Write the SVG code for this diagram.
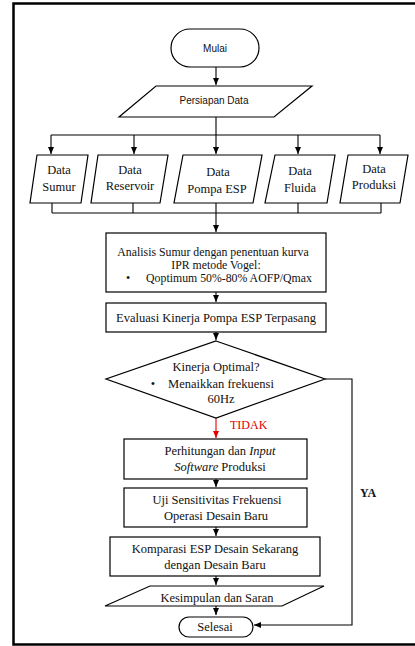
<svg xmlns="http://www.w3.org/2000/svg" width="415" height="646" viewBox="0 0 415 646">
<defs>
<marker id="ah" markerWidth="8" markerHeight="8" refX="7" refY="4" orient="auto" markerUnits="userSpaceOnUse">
<path d="M0,1 L7,4 L0,7 Z" fill="#000"/>
</marker>
<marker id="ahr" markerWidth="8" markerHeight="8" refX="7" refY="4" orient="auto" markerUnits="userSpaceOnUse">
<path d="M0,1 L7,4 L0,7 Z" fill="#e00000"/>
</marker>
</defs>
<style>
.s{fill:#fff;stroke:#000;stroke-width:1.2}
.t{font-family:"Liberation Serif","Times New Roman",serif;font-size:12.5px;fill:#111;text-anchor:middle}
.a{font-size:11.8px}
.c{font-family:"Liberation Sans",Arial,sans-serif;font-size:10px;fill:#111;text-anchor:middle}
.l{fill:none;stroke:#000;stroke-width:1.1}
</style>
<rect x="0" y="0" width="415" height="646" fill="#fff"/>
<rect x="13.5" y="3.5" width="420" height="641" fill="none" stroke="#000" stroke-width="2.5"/>

<g id="connectors">
<path class="l" d="M216,67 V85" marker-end="url(#ah)"/>
<path class="l" d="M216,117 V135 M51,135 H380"/>
<path class="l" d="M51,135 V154" marker-end="url(#ah)"/>
<path class="l" d="M134,135 V154" marker-end="url(#ah)"/>
<path class="l" d="M216,135 V154" marker-end="url(#ah)"/>
<path class="l" d="M298,135 V154" marker-end="url(#ah)"/>
<path class="l" d="M380,135 V154" marker-end="url(#ah)"/>
<path class="l" d="M52,203 V213 M133,203 V213 M298,203 V213 M381,203 V213 M52,213 H381 M216,203 V213"/>
<path class="l" d="M216,213 V232" marker-end="url(#ah)"/>
<path class="l" d="M216,292 V302" marker-end="url(#ah)"/>
<path class="l" d="M216,332 V340" marker-end="url(#ah)"/>
<path fill="none" stroke="#e00000" stroke-width="1.1" d="M216,418 V438" marker-end="url(#ahr)"/>
<path class="l" d="M216,479 V487" marker-end="url(#ah)"/>
<path class="l" d="M216,527 V536" marker-end="url(#ah)"/>
<path class="l" d="M216,576 V585" marker-end="url(#ah)"/>
<path class="l" d="M216,606 V615" marker-end="url(#ah)"/>
<path class="l" d="M325,379 H352 V625 H254" marker-end="url(#ah)"/>
<text x="230" y="429" font-family="Liberation Serif,serif" font-size="12px" fill="#e00000">TIDAK</text>
<text x="360" y="497" font-family="Liberation Serif,serif" font-size="12px" font-weight="bold" fill="#111">YA</text>
</g>

<g id="mulai">
<rect class="s" x="171" y="29" width="88" height="38" rx="19"/>
<text class="c" x="215" y="51.5">Mulai</text>
</g>
<g id="persiapan">
<polygon class="s" points="156,86 312,86 274,117 119,117"/>
<text class="c" x="214" y="104">Persiapan Data</text>
</g>
<g id="data-sumur">
<polygon class="s" points="37,155 88,155 81,203 30,203"/>
<text class="t" x="59" y="174">Data</text>
<text class="t" x="59" y="191">Sumur</text>
</g>
<g id="data-reservoir">
<polygon class="s" points="98,155 168,155 160,203 91,203"/>
<text class="t" x="130" y="174">Data</text>
<text class="t" x="130" y="190">Reservoir</text>
</g>
<g id="data-pompa">
<polygon class="s" points="183,155 262,155 253,203 174,203"/>
<text class="t" x="218" y="176">Data</text>
<text class="t" x="217" y="193">Pompa ESP</text>
</g>
<g id="data-fluida">
<polygon class="s" points="275,155 335,155 327,203 265,203"/>
<text class="t" x="300" y="175">Data</text>
<text class="t" x="300" y="192">Fluida</text>
</g>
<g id="data-produksi">
<polygon class="s" points="348,155 408,155 400,203 340,203"/>
<text class="t" x="374" y="173">Data</text>
<text class="t" x="374" y="189">Produksi</text>
</g>
<g id="analisis">
<rect class="s" x="106" y="233" width="220" height="59"/>
<text class="t a" x="213" y="256">Analisis Sumur dengan penentuan kurva</text>
<text class="t a" x="216" y="268.5">IPR metode Vogel:</text>
<text class="t a" x="128" y="281.5">•</text>
<text class="t a" x="229" y="281.5">Qoptimum 50%-80% AOFP/Qmax</text>
</g>
<g id="evaluasi">
<rect class="s" x="106" y="303" width="220" height="29"/>
<text class="t" x="216" y="322">Evaluasi Kinerja Pompa ESP Terpasang</text>
</g>
<g id="kinerja">
<polygon class="s" points="216,341 325,379 216,418 106,379"/>
<text class="t" x="216" y="371">Kinerja Optimal?</text>
<text class="t" x="153" y="388">•</text>
<text class="t" x="221" y="388">Menaikkan frekuensi</text>
<text class="t" x="221" y="403">60Hz</text>
</g>
<g id="perhitungan">
<rect class="s" x="124" y="439" width="183" height="40"/>
<text class="t" x="220" y="455">Perhitungan dan <tspan font-style="italic">Input</tspan></text>
<text class="t" x="220" y="471"><tspan font-style="italic">Software</tspan> Produksi</text>
</g>
<g id="uji">
<rect class="s" x="124" y="488" width="183" height="39"/>
<text class="t" x="217" y="504">Uji Sensitivitas Frekuensi</text>
<text class="t" x="216" y="520">Operasi Desain Baru</text>
</g>
<g id="komparasi">
<rect class="s" x="110" y="537" width="210" height="39"/>
<text class="t" x="215" y="553">Komparasi ESP Desain Sekarang</text>
<text class="t" x="215" y="569">dengan Desain Baru</text>
</g>
<g id="kesimpulan">
<polygon class="s" points="150,586 324,586 282,606 105,606"/>
<text class="t" x="217" y="602">Kesimpulan dan Saran</text>
</g>
<g id="selesai">
<rect class="s" x="179" y="617" width="74" height="20" rx="10"/>
<text class="t" x="215" y="631">Selesai</text>
</g>
</svg>
